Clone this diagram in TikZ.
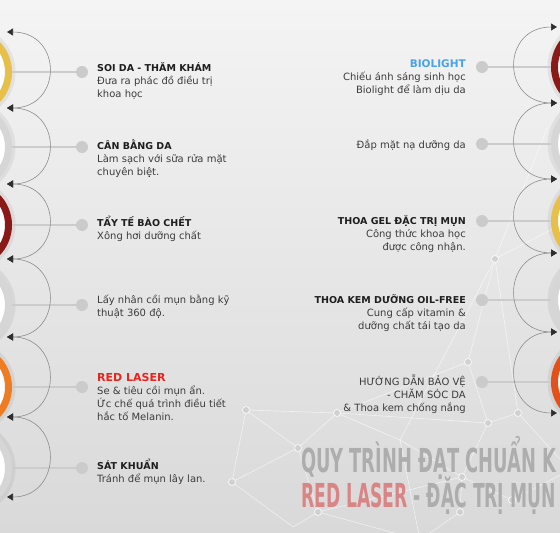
\documentclass[tikz,border=0pt]{standalone}
\usepackage{fontspec}
\setmainfont{DejaVu Sans}
\usetikzlibrary{arrows.meta}
\definecolor{bgtop}{HTML}{F4F4F4}
\definecolor{bgbottom}{HTML}{D9D9D9}
\definecolor{ringgold}{HTML}{E6C04A}
\definecolor{ringwine}{HTML}{8A1A18}
\definecolor{ringorange}{HTML}{EE7C22}
\definecolor{ringflame}{HTML}{E2501C}
\definecolor{ringsilver}{HTML}{D6D6D6}
\definecolor{linkgray}{HTML}{CCCCCC}
\definecolor{dotgray}{HTML}{CBCBCB}
\definecolor{arcgray}{HTML}{8C8C8C}
\definecolor{tipdark}{HTML}{2E2E2E}
\definecolor{headink}{HTML}{1E1E1E}
\definecolor{bodyink}{HTML}{3C3C3C}
\definecolor{laserred}{HTML}{E8241E}
\definecolor{bioblue}{HTML}{4AA3EA}
\definecolor{titlegray}{HTML}{ADADAD}
\definecolor{titlered}{HTML}{D98585}
\tikzset{
  ringnode/.style={circle, minimum size=80pt, inner sep=0pt, line width=7pt, fill=white},
  link/.style={draw=linkgray, line width=1.4pt},
  dot/.style={circle, fill=dotgray, minimum size=12pt, inner sep=0pt},
  loop/.style={draw=arcgray, line width=0.6pt,
    {Triangle[length=6pt,width=7pt,color=tipdark]}-{Triangle[length=6pt,width=7pt,color=tipdark]}},
  steptext/.style={inner sep=0pt, text=bodyink, font=\fontsize{10}{13}\selectfont},
  web/.style={draw=white, line width=0.6pt, opacity=0.6},
  webdot/.style={fill=linkgray, draw=white, line width=0.8pt, opacity=0.8},
  title/.style={inner sep=0pt, anchor=base west, font=\bfseries\fontsize{33}{33}\selectfont},
}
\newcommand{\hd}[1]{\textcolor{headink}{\bfseries\fontsize{9.5}{13}\selectfont #1}}
\begin{document}
\begin{tikzpicture}[x=1pt,y=-1pt]
\clip (0,0) rectangle (560,533);
\shade[top color=bgtop, bottom color=bgbottom] (0,0) rectangle (560,533);

% background network
\foreach \n/\p in {a/{246,410}, b/{337,413}, c/{298,448}, d/{232,482}, e/{293,527},
    f/{318,512}, g/{462,477}, h/{488,423}, i/{518,413}, j/{468,362}, k/{495,259},
    m/{512,500}, n/{460,512}, o/{570,220}, p/{547,128}, q/{400,440}, r/{420,540}, s/{570,470}}
  \coordinate (\n) at (\p);
\foreach \u/\v in {a/b, a/d, a/c, b/c, b/j, b/q, c/d, c/f, d/e, f/e, f/g, q/g, h/i, h/j,
    h/g, i/s, j/k, k/o, k/i, g/m, m/s, g/n, n/r, q/r, f/r, k/p, b/h, q/k}
  \draw[web] (\u) -- (\v);
\foreach \n in {a,b,c,d,f,h,i,j,k,g,m,n}
  \fill[webdot] (\n) circle[radius=3.5];

% left column
\foreach \y/\c [count=\i] in {72/ringgold, 147/ringsilver, 225/ringwine,
    305/ringsilver, 387/ringorange, 468/ringsilver} {
  \fill[black, opacity=0.06] (-31.5,\y) circle[radius=47];
  \node[ringnode, draw=\c] (lr\i) at (-31.5,\y) {};
  \node[dot] (ld\i) at (82,\y) {};
  \draw[link] (lr\i.east) -- (ld\i);
}
\foreach \y [count=\i] in {32,108,184,259,337,417,497}
  \coordinate (la\i) at (7,\y);
\foreach \i in {1,...,6} {
  \pgfmathtruncatemacro\j{\i+1}
  \draw[loop] (la\i) .. controls +(56,0) and +(56,0) .. (la\j);
}

% right column
\foreach \y/\c [count=\i] in {67/ringwine, 144/ringsilver, 221/ringgold,
    300/ringsilver, 382/ringflame} {
  \fill[black, opacity=0.06] (594.5,\y) circle[radius=47];
  \node[ringnode, draw=\c] (rr\i) at (594.5,\y) {};
  \node[dot] (rd\i) at (482,\y) {};
  \draw[link] (rd\i) -- (rr\i.west);
}
\foreach \y [count=\i] in {27,103,179,253,332,413}
  \coordinate (ra\i) at (557,\y);
\foreach \i in {1,...,5} {
  \pgfmathtruncatemacro\j{\i+1}
  \draw[loop] (ra\i) .. controls +(-56,0) and +(-56,0) .. (ra\j);
}

% left texts (anchored on the last line)
\node[steptext, align=left, anchor=base west] (lt1) at (97,97)
  {\hd{SOI DA - THĂM KHÁM}\\Đưa ra phác đồ điều trị\\khoa học};
\node[steptext, align=left, anchor=base west] (lt2) at (97,175)
  {\hd{CÂN BẰNG DA}\\Làm sạch với sữa rửa mặt\\chuyên biệt.};
\node[steptext, align=left, anchor=base west] (lt3) at (97,239)
  {\hd{TẨY TẾ BÀO CHẾT}\\Xông hơi dưỡng chất};
\node[steptext, align=left, anchor=base west] (lt4) at (97,316)
  {Lấy nhân cồi mụn bằng kỹ\\thuật 360 độ.};
\node[steptext, align=left, anchor=base west] (lt5) at (97,420)
  {\textcolor{laserred}{\bfseries\fontsize{11}{13}\selectfont RED LASER}\\Se \& tiêu cồi mụn ẩn.\\Ức chế quá trình điều tiết\\hắc tố Melanin.};
\node[steptext, align=left, anchor=base west] (lt6) at (97,482)
  {\hd{SÁT KHUẨN}\\Tránh để mụn lây lan.};

% right texts
\node[steptext, align=right, anchor=base east] (rt1) at (466,93)
  {\textcolor{bioblue}{\bfseries\fontsize{10.5}{13}\selectfont BIOLIGHT}\\Chiếu ánh sáng sinh học\\Biolight để làm dịu da};
\node[steptext, align=right, anchor=base east] (rt2) at (466,148)
  {Đắp mặt nạ dưỡng da};
\node[steptext, align=right, anchor=base east] (rt3) at (466,250)
  {\hd{THOA GEL ĐẶC TRỊ MỤN}\\Công thức khoa học\\được công nhận.};
\node[steptext, align=right, anchor=base east] (rt4) at (466,329)
  {\hd{THOA KEM DƯỠNG OIL-FREE}\\Cung cấp vitamin \&\\dưỡng chất tái tạo da};
\node[steptext, align=right, anchor=base east] (rt5) at (466,411)
  {HƯỚNG DẪN BẢO VỆ\\- CHĂM SÓC DA\\\& Thoa kem chống nắng};

% title
\node[title, text=titlegray, xscale=0.54] (tl1) at (301,472) {QUY TRÌNH ĐẠT CHUẨN K};
\node[title, text=titlegray, xscale=0.52] (tl2) at (301,507) {\textcolor{titlered}{RED LASER} - ĐẶC TRỊ MỤN};
\end{tikzpicture}
\end{document}
